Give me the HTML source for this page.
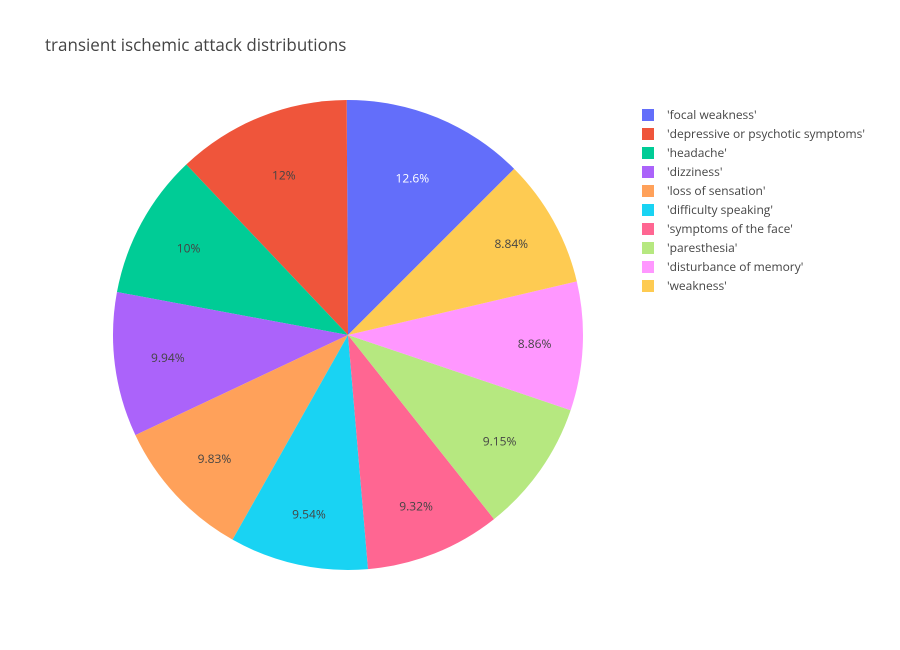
<!DOCTYPE html>
<html><head><meta charset="utf-8">
<style>
html,body{margin:0;padding:0;background:#fff;}
svg{display:block;font-family:"Open Sans","Liberation Sans",sans-serif;}
</style></head>
<body>
<svg id="chart" width="900" height="650">
<text x="45" y="51" font-size="17" fill="#444">transient ischemic attack distributions</text>
<g id="slices"></g>
<g id="labels"></g>
<g id="legend"></g>
</svg>
<script>
const categories = ["'focal weakness'","'depressive or psychotic symptoms'","'headache'","'dizziness'","'loss of sensation'","'difficulty speaking'","'symptoms of the face'","'paresthesia'","'disturbance of memory'","'weakness'"];
const values = [12.6, 12, 10, 9.94, 9.83, 9.54, 9.32, 9.15, 8.86, 8.84];
const valueLabels = ["12.6%","12%","10%","9.94%","9.83%","9.54%","9.32%","9.15%","8.86%","8.84%"];
const colors = ["#636efa","#EF553B","#00cc96","#ab63fa","#FFA15A","#19d3f3","#FF6692","#B6E880","#FF97FF","#FECB52"];

const NS="http://www.w3.org/2000/svg";
const cx=348, cy=335, r=235;
const total=values.reduce((a,b)=>a+b,0);
const maxV=Math.max(...values);
function pt(deg, rad){const a=deg*Math.PI/180;return [cx+rad*Math.sin(a), cy-rad*Math.cos(a)];}
const slicesG=document.getElementById('slices'), labelsG=document.getElementById('labels'), legendG=document.getElementById('legend');
let cur=45;
values.forEach((v,i)=>{
  const sweep=v/total*360;
  const end=cur, start=cur-sweep;
  const [x1,y1]=pt(start,r),[x2,y2]=pt(end,r);
  const p=document.createElementNS(NS,'path');
  p.setAttribute('d',`M${cx},${cy}L${x1},${y1}A${r},${r} 0 ${sweep>180?1:0} 1 ${x2},${y2}Z`);
  p.setAttribute('fill',colors[i]);
  
  
  slicesG.appendChild(p);
  const f=Math.min(0.82, 0.72 + (maxV - v)/total*100*0.02);
  const [lx,ly]=pt((start+end)/2, r*f);
  const t=document.createElementNS(NS,'text');
  t.setAttribute('x',lx);t.setAttribute('y',ly+4);
  t.setAttribute('text-anchor','middle');t.setAttribute('font-size','12');
  t.setAttribute('fill', i===0?'#fff':'#444');
  t.textContent=valueLabels[i];
  
  
  labelsG.appendChild(t);
  cur=start;
  const g=document.createElementNS(NS,'g');
  
  
  const y=115+i*19;
  const rc=document.createElementNS(NS,'rect');
  rc.setAttribute('x',642);rc.setAttribute('y',y-6);rc.setAttribute('width',12);rc.setAttribute('height',12);
  rc.setAttribute('fill',colors[i]);
  g.appendChild(rc);
  const lt=document.createElementNS(NS,'text');
  lt.setAttribute('x',667);lt.setAttribute('y',y+4);lt.setAttribute('font-size','12');lt.setAttribute('fill','#444');
  lt.textContent=categories[i];
  g.appendChild(lt);
  legendG.appendChild(g);
});
</script>
</body></html>
